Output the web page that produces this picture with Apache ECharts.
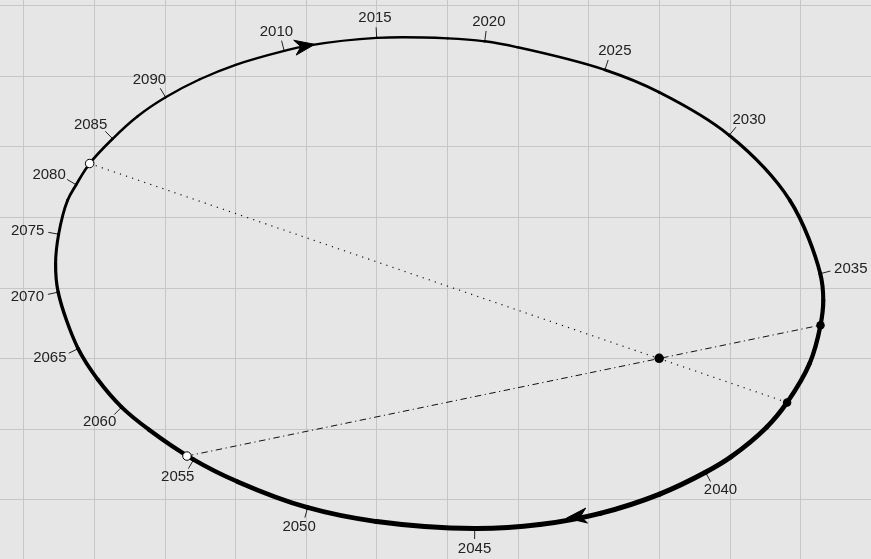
<!DOCTYPE html>
<html><head><meta charset="utf-8">
<script src="https://cdn.jsdelivr.net/npm/echarts@6/dist/echarts.min.js"></script>
<style>html,body{margin:0;padding:0;background:#e6e6e6;overflow:hidden;width:871px;height:559px;position:relative}
#c{position:absolute;left:-47px;top:-65px;width:918px;height:635px}</style>
</head><body><div id="c"></div>
<script>
// Orbit points (grid units, focus at 0,0), in time order
const orbitPoints = [
  [-5.310,4.358],[-4.992,4.429],[-4.000,4.542],[-2.994,4.535],[-2.470,4.493],
  [-2.003,4.408],[-0.769,4.088],[0.000,3.771],[0.993,3.161],[1.850,2.241],
  [2.282,1.200],[2.324,0.824],[2.285,0.470],[2.133,-0.068],[1.812,-0.625],
  [1.524,-0.975],[1.014,-1.399],[0.657,-1.615],[0.008,-1.924],[-0.834,-2.197],
  [-1.691,-2.356],[-2.612,-2.412],[-4.000,-2.313],[-4.977,-2.115],[-5.975,-1.746],
  [-6.592,-1.435],[-7.229,-1.008],[-7.612,-0.691],[-7.952,-0.297],[-8.228,0.137],
  [-8.511,0.938],[-8.547,1.348],[-8.504,1.759],[-8.377,2.241],[-8.256,2.460],
  [-8.065,2.761],[-7.739,3.112],[-7.385,3.431],[-6.989,3.700],[-6.504,3.955],
  [-5.997,4.160]
];
// Year label for each orbit point (null = no label)
const orbitYears = [
  2010,null,2015,null,2020,null,2025,null,2030,null,
  2035,null,null,null,null,null,null,2040,null,null,
  null,2045,null,2050,null,2055,null,2060,null,2065,
  2070,null,2075,null,2080,null,2085,null,2090,null,null
];
const focusPoint = [[0,0]];
const orbitDots = [[2.285,0.470],[1.812,-0.625]];
const openDots = [[-8.065,2.761],[-6.687,-1.385]];
const arrowTips = [[-4.878,4.450],[-1.309,-2.263]];

const tickData = [];
orbitYears.forEach((yr,i)=>{ if(yr!==null) tickData.push([orbitPoints[i][0],orbitPoints[i][1],i,yr]); });

const N = orbitPoints.length;
function pix(api,k){ return api.coord(orbitPoints[((k%N)+N)%N]); }
function dist(a,b){ return Math.hypot(a[0]-b[0], a[1]-b[1]); }
function centroid(api){
  let sx=0,sy=0; for(let k=0;k<N;k++){const p=pix(api,k); sx+=p[0]; sy+=p[1];}
  return [sx/N, sy/N];
}
// unit tangent of the centripetal spline at orbit point i
function tangentAt(api,i){
  const a=pix(api,i-1), p=pix(api,i), b=pix(api,i+1);
  const la=dist(a,p), lb=dist(p,b);
  let tx=la*(b[0]-p[0]) + lb*(p[0]-a[0]), ty=la*(b[1]-p[1]) + lb*(p[1]-a[1]);
  const L=Math.hypot(tx,ty); return [tx/L, ty/L];
}
// container is offset by (-47,-65) relative to the window
function widthAt(x,y){
  const wx = x-47, wy = y-65;
  return 3.65 + 0.40*(wx-439)/384 + 1.32*(wy-283)/246;
}

const chart = echarts.init(document.getElementById('c'), null, {renderer:'canvas'});
chart.setOption({
  animation:false,
  backgroundColor:'#e6e6e6',
  grid:{left:0, top:0, right:0, bottom:0, containLabel:false},
  xAxis:{type:'value', min:-10, max:3, interval:1,
    axisLine:{show:false}, axisTick:{show:false}, axisLabel:{show:false},
    splitLine:{show:true, lineStyle:{color:'#c6c6c6', width:1}}},
  yAxis:{type:'value', min:-3, max:6, interval:1,
    axisLine:{show:false}, axisTick:{show:false}, axisLabel:{show:false},
    splitLine:{show:true, lineStyle:{color:'#c6c6c6', width:1}}},
  series:[
    {type:'line', data:[openDots[0], orbitDots[1]], showSymbol:false, silent:true, z:2,
     lineStyle:{color:'#111', width:1.2, type:[1.2,5.2]}},
    {type:'line', data:[openDots[1], orbitDots[0]], showSymbol:false, silent:true, z:2,
     lineStyle:{color:'#111', width:1, type:[6.5,3.5,1.2,3.5]}},
    {type:'custom', coordinateSystem:'cartesian2d', data:tickData, z:3, silent:true,
     renderItem:function(params, api){
       const i = api.value(2), yr = api.value(3);
       const p = pix(api,i);
       const t = tangentAt(api,i);
       let nx=t[1], ny=-t[0];
       const c = centroid(api);
       if((p[0]-c[0])*nx + (p[1]-c[1])*ny < 0){ nx=-nx; ny=-ny; }
       const tl = 10.5, gap = 3.5, hw = 17.5, hh = 6;
       const lx = p[0] + nx*(tl+gap) + nx*hw;
       const ly = p[1] + ny*(tl+gap) + ny*hh;
       return {type:'group', children:[
         {type:'line', shape:{x1:p[0],y1:p[1],x2:p[0]+nx*tl,y2:p[1]+ny*tl},
          style:{stroke:'#222', lineWidth:1}},
         {type:'text', style:{text:String(yr), x:lx, y:ly,
          align:'center', verticalAlign:'middle',
          font:'15px "Liberation Sans", Arial, sans-serif', fill:'#222'}}
       ]};
     }},
    {type:'custom', coordinateSystem:'cartesian2d', data:orbitPoints, z:4, silent:true,
     renderItem:function(params, api){
       const i = params.dataIndex;
       const P0=pix(api,i-1), P1=pix(api,i), P2=pix(api,i+1), P3=pix(api,i+2);
       // centripetal Catmull-Rom -> cubic Bezier
       const d1=Math.sqrt(dist(P0,P1)), d2=Math.sqrt(dist(P1,P2)), d3=Math.sqrt(dist(P2,P3));
       const c1=[0,1].map(k=>(d1*d1*P2[k] - d2*d2*P0[k] + (2*d1*d1+3*d1*d2+d2*d2)*P1[k])/(3*d1*(d1+d2)));
       const c2=[0,1].map(k=>(d3*d3*P1[k] - d2*d2*P3[k] + (2*d3*d3+3*d3*d2+d2*d2)*P2[k])/(3*d3*(d3+d2)));
       const w = widthAt((P1[0]+P2[0])/2,(P1[1]+P2[1])/2);
       return {type:'bezierCurve', shape:{x1:P1[0],y1:P1[1],x2:P2[0],y2:P2[1],
         cpx1:c1[0],cpy1:c1[1],cpx2:c2[0],cpy2:c2[1]},
         style:{stroke:'#000', fill:'none', lineWidth:w, lineCap:'round'}};
     }},
    {type:'custom', coordinateSystem:'cartesian2d', data:arrowTips, z:5, silent:true,
     renderItem:function(params, api){
       const t = api.coord([api.value(0), api.value(1)]);
       let best=0, bd=1e9;
       for(let k=0;k<N;k++){const q=pix(api,k); const dd=Math.hypot(q[0]-t[0],q[1]-t[1]); if(dd<bd){bd=dd;best=k;}}
       const u = tangentAt(api,best);
       const ux=u[0], uy=u[1], vx=-uy, vy=ux;
       const len=20, hw=7.5, notch=14;
       return {type:'polygon', shape:{points:[
         [t[0],t[1]],
         [t[0]-len*ux+hw*vx, t[1]-len*uy+hw*vy],
         [t[0]-notch*ux, t[1]-notch*uy],
         [t[0]-len*ux-hw*vx, t[1]-len*uy-hw*vy]
       ]}, style:{fill:'#000', stroke:'#000', lineWidth:1}};
     }},
    {type:'scatter', data:orbitDots, symbol:'circle', symbolSize:8.5, z:6, silent:true,
     itemStyle:{color:'#000', opacity:1}},
    {type:'scatter', data:focusPoint, symbol:'circle', symbolSize:9.5, z:6, silent:true,
     itemStyle:{color:'#000', opacity:1}},
    {type:'scatter', data:openDots, symbol:'circle', symbolSize:8.5, z:6, silent:true,
     itemStyle:{color:'#fff', borderColor:'#000', borderWidth:1, opacity:1}}
  ]
});
</script></body></html>
